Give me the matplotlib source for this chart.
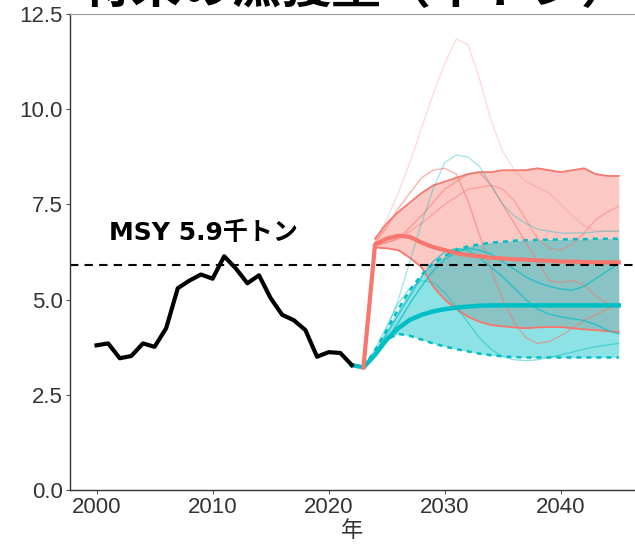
import matplotlib
matplotlib.use("Agg")
import matplotlib.pyplot as plt
import numpy as np

plt.rcParams['font.family'] = ['Liberation Sans', 'Noto Sans CJK JP']

# 実績
hist_years = list(range(2000, 2023))
hist_catch = [3.80, 3.85, 3.46, 3.52, 3.85, 3.76, 4.25, 5.30, 5.50, 5.66, 5.55, 6.14,
              5.82, 5.43, 5.64, 5.04, 4.60, 4.46, 4.20, 3.50, 3.62, 3.60, 3.28]

proj_years = list(range(2023, 2046))

# 現状の漁獲圧 (赤)
red_med = [3.22, 6.45, 6.60, 6.68, 6.65, 6.50, 6.38, 6.30, 6.22, 6.17, 6.14, 6.10,
           6.08, 6.06, 6.05, 6.03, 6.02, 6.00, 6.00, 5.99, 5.98, 5.98, 5.98]
red_up = [3.22, 6.60, 7.00, 7.30, 7.55, 7.80, 8.00, 8.10, 8.20, 8.30, 8.35, 8.35,
          8.40, 8.40, 8.40, 8.45, 8.40, 8.35, 8.40, 8.45, 8.30, 8.25, 8.25]
red_lo = [3.22, 6.37, 6.35, 6.30, 6.10, 5.85, 5.35, 5.00, 4.75, 4.55, 4.42, 4.33,
          4.30, 4.27, 4.25, 4.27, 4.28, 4.28, 4.25, 4.22, 4.20, 4.17, 4.15]
red_runs = [
    [3.22, 6.55, 7.10, 7.80, 8.60, 9.50, 10.40, 11.20, 11.85, 11.70, 10.80, 9.70,
     8.90, 8.40, 8.10, 7.95, 7.80, 7.50, 7.20, 6.95, 6.80, 6.80, 6.80],
    [3.22, 6.50, 6.90, 7.40, 7.80, 8.20, 8.40, 8.45, 8.30, 7.60, 6.70, 5.80,
     5.00, 4.40, 4.00, 3.85, 3.90, 4.05, 4.25, 4.45, 4.60, 4.75, 4.85],
    [3.22, 6.40, 6.50, 6.60, 6.90, 7.20, 7.55, 7.90, 8.10, 8.30, 8.35, 8.00,
     7.50, 7.00, 6.50, 6.00, 5.50, 5.45, 5.50, 5.40, 5.10, 4.90, 4.85],
    [3.22, 6.45, 6.50, 6.60, 6.80, 7.00, 7.25, 7.50, 7.70, 7.90, 7.95, 8.00,
     7.90, 7.60, 7.10, 6.60, 6.35, 6.30, 6.45, 6.75, 7.10, 7.30, 7.45],
]
red_alpha = [0.25, 0.55, 0.55, 0.45]

# 漁獲管理規則 (青緑)
teal_med = [3.22, 3.55, 3.95, 4.25, 4.47, 4.60, 4.69, 4.75, 4.79, 4.82, 4.84, 4.85,
            4.85, 4.85, 4.85, 4.85, 4.85, 4.85, 4.85, 4.85, 4.85, 4.85, 4.85]
teal_up = [3.22, 3.67, 4.20, 4.75, 5.25, 5.65, 5.95, 6.15, 6.30, 6.40, 6.45, 6.50,
           6.52, 6.55, 6.56, 6.57, 6.58, 6.58, 6.59, 6.59, 6.60, 6.60, 6.60]
teal_lo = [3.22, 3.55, 3.95, 4.10, 4.05, 3.95, 3.85, 3.77, 3.70, 3.64, 3.58, 3.54,
           3.51, 3.49, 3.48, 3.48, 3.48, 3.48, 3.48, 3.48, 3.48, 3.48, 3.48]
teal_runs = [
    [3.22, 3.60, 4.20, 5.00, 6.00, 7.00, 7.90, 8.60, 8.80, 8.75, 8.50, 8.00,
     7.50, 7.20, 7.00, 6.85, 6.80, 6.75, 6.75, 6.75, 6.78, 6.80, 6.80],
    [3.22, 3.60, 4.10, 4.60, 5.10, 5.60, 6.00, 6.25, 6.35, 6.30, 6.10, 5.85,
     5.60, 5.30, 5.00, 4.75, 4.62, 4.55, 4.50, 4.45, 4.35, 4.20, 4.10],
    [3.22, 3.55, 3.95, 4.40, 4.90, 5.35, 5.75, 6.05, 6.25, 6.35, 6.30, 6.20,
     6.00, 5.80, 5.60, 5.45, 5.35, 5.28, 5.25, 5.35, 5.55, 5.75, 5.95],
    [3.22, 3.70, 4.30, 4.90, 5.30, 5.50, 5.45, 5.20, 4.80, 4.40, 4.00, 3.70,
     3.50, 3.42, 3.40, 3.42, 3.48, 3.55, 3.62, 3.70, 3.76, 3.81, 3.85],
]
teal_alpha = [0.35, 0.7, 0.7, 0.45]

msy = 5.9
red = "#F8766D"
teal = "#00BFC4"

fig = plt.figure(figsize=(6.35, 5.45), dpi=100)
ax = fig.add_axes([0.110, 0.101, 0.890, 0.873])

py = np.array(proj_years)
ax.fill_between(py[1:], red_lo[1:], red_up[1:], color=red, alpha=0.4, lw=0)
ax.plot(py[1:], red_up[1:], color=red, lw=1.3)
ax.plot(py[1:], red_lo[1:], color=red, lw=1.3)

ax.fill_between(py, teal_lo, teal_up, color=teal, alpha=0.45, lw=0)
ax.plot(py, teal_up, color=teal, lw=1.8, ls=(0, (2, 2)))
ax.plot(py, teal_lo, color=teal, lw=1.8, ls=(0, (2, 2)))

for run, a in zip(red_runs, red_alpha):
    ax.plot(py, run, color=red, lw=1.0, alpha=a)
for run, a in zip(teal_runs, teal_alpha):
    ax.plot(py, run, color=teal, lw=1.0, alpha=a)

ax.plot([hist_years[-1]] + proj_years, [hist_catch[-1]] + teal_med, color=teal, lw=3.2)
ax.plot(py, red_med, color=red, lw=3.0)
ax.plot(hist_years, hist_catch, color="black", lw=3.0)

ax.axhline(msy, color="black", lw=1.5, ls=(0, (4, 3)))
ax.text(2001.1, 6.75, "MSY 5.9千トン", fontsize=18, fontweight="bold", va="center",
        family=['DejaVu Sans', 'Noto Sans CJK JP'])

ax.set_xlim(1997.7, 2046.4)
ax.set_ylim(0, 12.5)
ax.set_xticks([2000, 2010, 2020, 2030, 2040])
ax.set_yticks([0, 2.5, 5.0, 7.5, 10.0, 12.5])
ax.set_yticklabels(["0.0", "2.5", "5.0", "7.5", "10.0", "12.5"])
ax.tick_params(labelsize=16, labelcolor="#333333", color="#555555", length=3, pad=2)
ax.set_xlabel("年", fontsize=16, color="#333333", labelpad=2)

for s in ["left", "bottom"]:
    ax.spines[s].set_color("#333333")
    ax.spines[s].set_linewidth(1.0)
ax.spines["right"].set_visible(False)
ax.spines["top"].set_color("#999999")
ax.spines["top"].set_linewidth(0.8)

fig.text(0.56, 1 - 13 / 545, "将来の漁獲量（千トン）", fontsize=36, fontweight="bold",
         ha="center", va="bottom")

fig.savefig("out.png", dpi=100)
